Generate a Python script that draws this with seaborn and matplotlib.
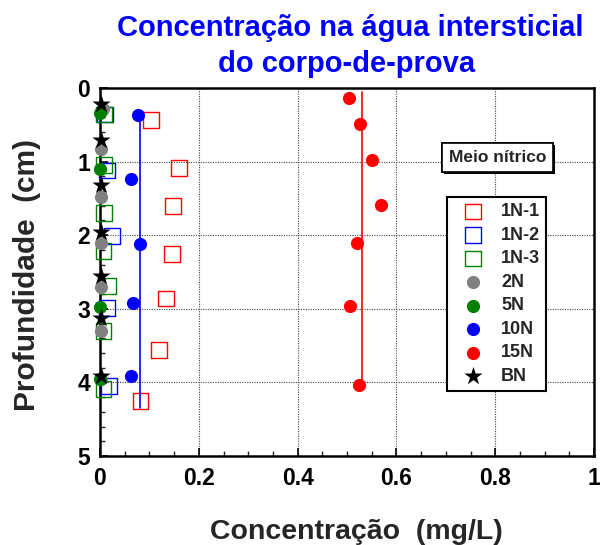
import matplotlib
matplotlib.use("Agg")
import matplotlib.pyplot as plt
import matplotlib.patheffects as pe
from matplotlib.ticker import MultipleLocator
import seaborn as sns

# Concentration (mg/L) vs depth (cm) for each specimen
n1_1_conc = [0.103, 0.160, 0.148, 0.146, 0.134, 0.120, 0.082]
n1_1_depth = [0.43, 1.09, 1.60, 2.25, 2.86, 3.56, 4.25]

n1_2_conc = [0.010, 0.014, 0.024, 0.014, 0.019]
n1_2_depth = [0.36, 1.12, 2.01, 2.99, 4.05]

n1_3_conc = [0.008, 0.008, 0.008, 0.007, 0.017, 0.007, 0.007]
n1_3_depth = [0.36, 1.05, 1.70, 2.22, 2.69, 3.30, 4.09]

n2_conc = [0.006, 0.002, 0.002, 0.002, 0.002, 0.002, 0.002]
n2_depth = [0.28, 0.83, 1.48, 2.11, 2.71, 3.30, 3.95]

n5_conc = [0.0, 0.0, 0.0, 0.0]
n5_depth = [0.34, 1.10, 2.97, 3.96]

n10_conc = [0.076, 0.063, 0.081, 0.066, 0.062]
n10_depth = [0.37, 1.24, 2.12, 2.92, 3.91]

n15_conc = [0.505, 0.526, 0.551, 0.569, 0.521, 0.507, 0.524]
n15_depth = [0.13, 0.49, 0.98, 1.59, 2.11, 2.96, 4.04]

bn_conc = [0.002, 0.002, 0.002, 0.002, 0.002, 0.002, 0.002]
bn_depth = [0.22, 0.71, 1.32, 1.95, 2.55, 3.12, 3.91]

# Reference vertical lines (mean level for 10N and 15N)
line10_conc = [0.080, 0.080]
line10_depth = [0.37, 4.35]
line15_conc = [0.530, 0.530]
line15_depth = [0.06, 4.04]

x_ticks = [0, 0.2, 0.4, 0.6, 0.8, 1]
x_tick_labels = ["0", "0.2", "0.4", "0.6", "0.8", "1"]
y_ticks = [0, 1, 2, 3, 4, 5]
y_tick_labels = ["0", "1", "2", "3", "4", "5"]

sns.set_style("white")
plt.rcParams["font.family"] = ["Liberation Sans", "DejaVu Sans"]
plt.rcParams["font.weight"] = "bold"

fig = plt.figure(figsize=(6.0, 5.45), dpi=100)
ax = fig.add_axes([100 / 600, 1 - 456 / 545, 494 / 600, 368 / 545])

RED = "#ff0000"
BLUE = "#0000ff"
GREEN = "#008000"
GRAY = "#808080"

sq = dict(marker="s", s=130, facecolors="none", linewidth=1.0, clip_on=False, ax=ax)
sns.scatterplot(x=n1_1_conc, y=n1_1_depth, edgecolor=RED, label="1N-1", zorder=3, **sq)
sns.scatterplot(x=n1_2_conc, y=n1_2_depth, edgecolor=BLUE, label="1N-2", zorder=3, **sq)
sns.scatterplot(x=n1_3_conc, y=n1_3_depth, edgecolor=GREEN, label="1N-3", zorder=3, **sq)

ax.plot(line10_conc, line10_depth, color=BLUE, lw=1.2, zorder=4)
ax.plot(line15_conc, line15_depth, color=RED, lw=1.2, zorder=4)

ci = dict(marker="o", s=90, linewidth=0, clip_on=False, ax=ax)
sns.scatterplot(x=n2_conc, y=n2_depth, color=GRAY, label="2N", zorder=5, **ci)
sns.scatterplot(x=n5_conc, y=n5_depth, color=GREEN, label="5N", zorder=6, **ci)
sns.scatterplot(x=n10_conc, y=n10_depth, color=BLUE, label="10N", zorder=5, **ci)
sns.scatterplot(x=n15_conc, y=n15_depth, color=RED, label="15N", zorder=5, **ci)
sns.scatterplot(x=bn_conc, y=bn_depth, marker="*", s=190, color="black",
                linewidth=0, clip_on=False, ax=ax, label="BN", zorder=7)

ax.set_xlim(0, 1)
ax.set_ylim(5, 0)
ax.set_xticks(x_ticks)
ax.set_xticklabels(x_tick_labels)
ax.set_yticks(y_ticks)
ax.set_yticklabels(y_tick_labels)
ax.xaxis.set_minor_locator(MultipleLocator(0.05))
ax.yaxis.set_minor_locator(MultipleLocator(0.2))
ax.tick_params(axis="both", which="major", direction="in", length=6, width=1.2,
               labelsize=16.5, colors="black")
ax.tick_params(axis="both", which="minor", direction="in", length=3.5, width=1.0)
ax.tick_params(axis="x", which="major", pad=8)
ax.tick_params(axis="y", which="major", pad=7)
ax.tick_params(left=True, bottom=True, which="both")
for lab in ax.get_xticklabels() + ax.get_yticklabels():
    lab.set_fontweight("bold")

ax.grid(True, which="major", color="#444444", linestyle=(0, (1, 1.2)), linewidth=0.8)
ax.set_axisbelow(True)
for side in ["left", "bottom", "top", "right"]:
    ax.spines[side].set_visible(True)
    ax.spines[side].set_color("black")
    ax.spines[side].set_linewidth(1.8)
ax.set_xlabel("")
ax.set_ylabel("")

leg = ax.legend(loc="upper left", bbox_to_anchor=(0.702, 0.704), borderaxespad=0,
                frameon=True, fancybox=False, edgecolor="black", framealpha=1,
                handletextpad=0.45, labelspacing=0.36, borderpad=0.35,
                handlelength=2.2, prop={"weight": "bold", "size": 13})
leg.get_frame().set_linewidth(1.5)

box = ax.text(0.805, 0.811, "Meio nítrico", transform=ax.transAxes, ha="center",
              va="center", fontsize=12.5, fontweight="bold", zorder=10,
              bbox=dict(boxstyle="square,pad=0.4", fc="white", ec="black", lw=1.2))
box.get_bbox_patch().set_path_effects(
    [pe.withSimplePatchShadow(offset=(1.5, -1.5), shadow_rgbFace="black", alpha=1.0),
     pe.Normal()])

fig.text(350 / 600, 1 - 36 / 545, "Concentração na água intersticial",
         ha="center", va="baseline", fontsize=21, fontweight="bold", color="#0000ff")
fig.text(347 / 600, 1 - 72 / 545, "do corpo-de-prova",
         ha="center", va="baseline", fontsize=21, fontweight="bold", color="#0000ff")

fig.text(356 / 600, 1 - 539 / 545, "Concentração  (mg/L)", ha="center",
         va="baseline", fontsize=20.5, fontweight="bold")
fig.text(27 / 600, 1 - 275 / 545, "Profundidade  (cm)", ha="center", va="center",
         rotation=90, fontsize=21.5, fontweight="bold")

fig.savefig("out.png", dpi=100)
